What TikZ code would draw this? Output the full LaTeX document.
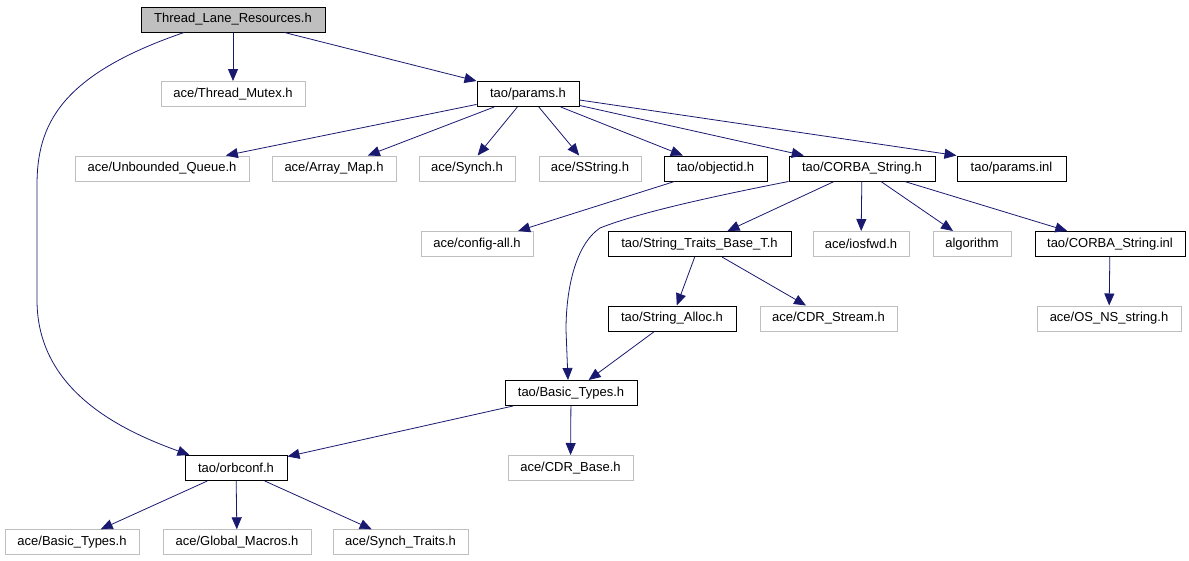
\documentclass[tikz,border=0pt]{standalone}
\usepackage{fontspec}
\setmainfont{Liberation Sans}
\usetikzlibrary{arrows.meta}
\definecolor{edgeblue}{HTML}{191970}
\definecolor{acegray}{HTML}{BFBFBF}
\begin{document}
\begin{tikzpicture}[x=1pt,y=-1pt,
  box/.style={rectangle, inner sep=0pt, minimum height=25pt, font=\fontsize{13}{15}\selectfont, line width=1pt},
  tao/.style={box, draw=black},
  ace/.style={box, draw=acegray},
  root/.style={box, draw=black, fill=acegray},
  dep/.style={draw=edgeblue, line width=0.8pt, -{Triangle[length=12pt,width=10pt]}, edgeblue}]
\useasboundingbox (0,0) rectangle (1189,560);
% row 0
\node[root, minimum width=184pt] (tlr) at (233,19.5) {Thread\_Lane\_Resources.h};
% row 1
\node[ace, minimum width=144pt] (tm) at (233,94) {ace/Thread\_Mutex.h};
\node[tao, minimum width=102pt] (params) at (528,94) {tao/params.h};
% row 2
\node[ace, minimum width=174pt] (uq) at (162,168.5) {ace/Unbounded\_Queue.h};
\node[ace, minimum width=124pt] (am) at (334,168.5) {ace/Array\_Map.h};
\node[ace, minimum width=96pt] (synch) at (467,168.5) {ace/Synch.h};
\node[ace, minimum width=102pt] (sstring) at (590,168.5) {ace/SString.h};
\node[tao, minimum width=103pt] (objectid) at (715.5,168.5) {tao/objectid.h};
\node[tao, minimum width=146pt] (cs) at (862,168.5) {tao/CORBA\_String.h};
\node[tao, minimum width=109pt] (pinl) at (1011.5,168.5) {tao/params.inl};
% row 3
\node[ace, minimum width=112pt] (config) at (477,244) {ace/config-all.h};
\node[tao, minimum width=183pt] (stb) at (699.5,244) {tao/String\_Traits\_Base\_T.h};
\node[ace, minimum width=96pt] (iosfwd) at (861,244) {ace/iosfwd.h};
\node[ace, minimum width=78pt] (algo) at (972,244) {algorithm};
\node[tao, minimum width=150pt] (csinl) at (1110,244) {tao/CORBA\_String.inl};
% row 4
\node[tao, minimum width=128pt] (salloc) at (672,318.5) {tao/String\_Alloc.h};
\node[ace, minimum width=137pt] (cdrs) at (828.5,318.5) {ace/CDR\_Stream.h};
\node[ace, minimum width=144pt] (osns) at (1109,318.5) {ace/OS\_NS\_string.h};
% row 5
\node[tao, minimum width=132pt] (bt) at (571,393) {tao/Basic\_Types.h};
% row 6
\node[tao, minimum width=102pt] (orbconf) at (236,468) {tao/orbconf.h};
\node[ace, minimum width=125pt] (cdrb) at (570.5,468) {ace/CDR\_Base.h};
% row 7
\node[ace, minimum width=134pt] (abt) at (72,542.3) {ace/Basic\_Types.h};
\node[ace, minimum width=148pt] (gm) at (237,542.3) {ace/Global\_Macros.h};
\node[ace, minimum width=135pt] (st) at (400.5,542.3) {ace/Synch\_Traits.h};

% edges
\draw[dep] (tlr) -- (tm);
\draw[dep] (tlr) -- (params);
\draw[dep] ([xshift=-49pt]tlr.south) .. controls (60,75) and (37,125) .. (37,185)
  -- (37,300) .. controls (37,390) and (120,430) .. ([xshift=5pt]orbconf.north west);
\draw[dep] (params) -- (uq);
\draw[dep] (params) -- (am);
\draw[dep] (params) -- (synch);
\draw[dep] (params) -- (sstring);
\draw[dep] (params) -- (objectid);
\draw[dep] (params) -- (cs);
\draw[dep] ([yshift=-6pt]params.east) -- (pinl.north west);
\draw[dep] (objectid) -- (config);
\draw[dep] (cs.south west) .. controls (720,195) and (640,212) .. (600,228)
  .. controls (575,245) and (566,290) .. (566,330) -- ([xshift=-3pt]bt.north);
\draw[dep] (cs) -- (stb);
\draw[dep] (cs) -- (iosfwd);
\draw[dep] (cs) -- (algo);
\draw[dep] (cs) -- (csinl);
\draw[dep] (csinl) -- (osns);
\draw[dep] (stb) -- (salloc);
\draw[dep] (stb) -- (cdrs);
\draw[dep] (salloc) -- (bt);
\draw[dep] (bt) -- (cdrb);
\draw[dep] (bt) -- (orbconf);
\draw[dep] (orbconf) -- (abt);
\draw[dep] (orbconf) -- (gm);
\draw[dep] (orbconf) -- (st);
\end{tikzpicture}
\end{document}
